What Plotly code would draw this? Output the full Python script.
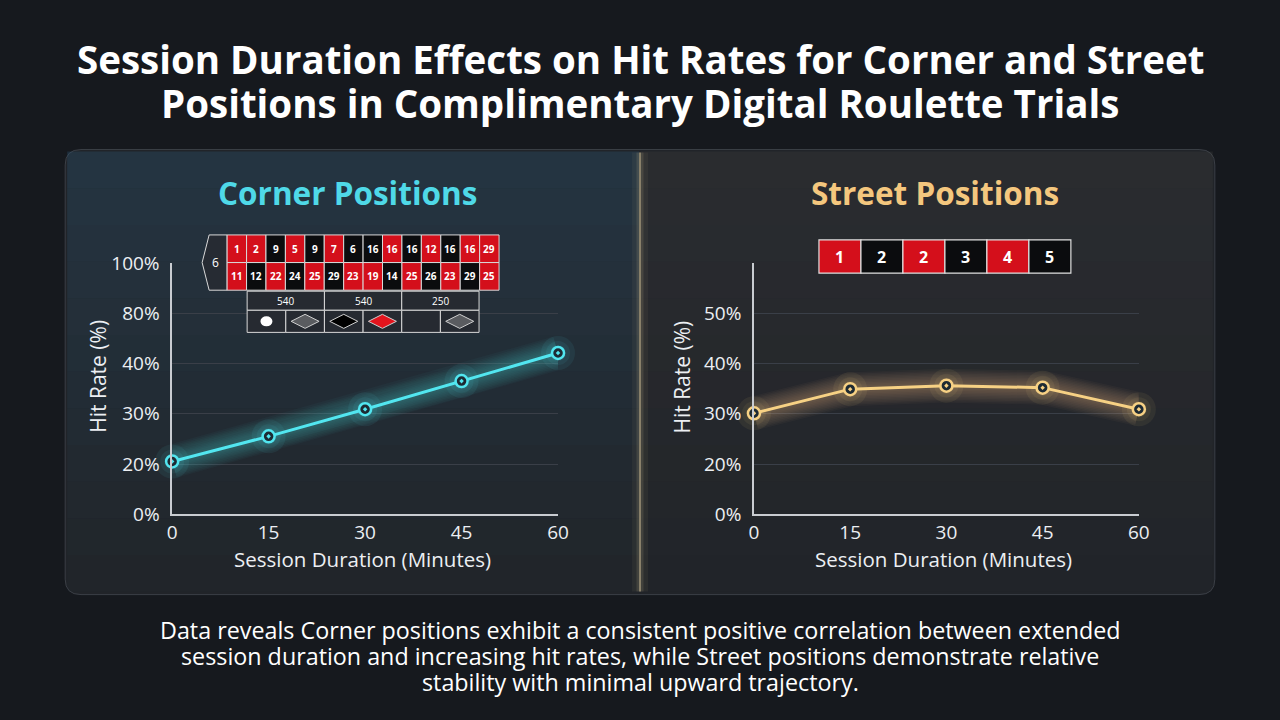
import plotly.graph_objects as go

# data
minutes = [0, 15, 30, 45, 60]
corner_rate = [20.5, 25.5, 30.9, 36.5, 42.1]
street_rate = [30.1, 34.9, 35.6, 35.2, 30.9]

# the y axes are labelled unevenly in the original, kept as-is
corner_tickvals = [10, 20, 30, 40, 50, 60]
corner_ticktext = ["0%", "20%", "30%", "40%", "80%", "100%"]
street_tickvals = [10, 20, 30, 40, 50]
street_ticktext = ["0%", "20%", "30%", "40%", "50%"]

# decorative roulette layouts
table_top = ["1", "2", "9", "5", "9", "7", "6", "16", "16", "16", "12", "16", "16", "29"]
table_top_col = ["R", "R", "B", "R", "B", "R", "B", "B", "R", "B", "R", "B", "R", "R"]
table_bot = ["11", "12", "22", "24", "25", "29", "23", "19", "14", "25", "26", "23", "29", "25"]
table_bot_col = ["R", "B", "R", "B", "R", "B", "R", "R", "B", "R", "B", "R", "B", "R"]
dozens = ["540", "540", "250"]
suits = ["dot", "gray", "black", "red", "", "gray"]
street_cells = ["1", "2", "2", "3", "4", "5"]
street_col = ["R", "B", "R", "B", "R", "B"]

W, H = 1280, 720
CYAN = "#52e6f0"
GOLD = "#f7d184"
RED = "#d40f1b"
BLK = "#0b0c0e"
FONT = "Open Sans"
TXT = "#eceff3"
BG = "#16191e"

# the capture ends up slightly shrunk/offset, so layout pixels are pre-adjusted
SX, OX = 0.9878, 4.8
SY, OY = 0.9594, 14.1


def px(x):
    return (x - OX) / SX / W


def py(y):
    return 1 - (y - OY) / SY / H


shapes = []
annotations = []


def rect(x0, y0, x1, y1, fill, line="#d9d9d9", lw=1, layer="above"):
    shapes.append(dict(type="rect", xref="paper", yref="paper",
                       x0=px(x0), x1=px(x1), y0=py(y1), y1=py(y0),
                       fillcolor=fill, line=dict(color=line, width=lw), layer=layer))


def label(x, y, text, size, color="white", bold=False, angle=0):
    annotations.append(dict(x=px(x), y=py(y), xref="paper", yref="paper",
                            text=f"<b>{text}</b>" if bold else text, showarrow=False,
                            xanchor="center", yanchor="middle", textangle=angle,
                            font=dict(family=FONT, size=size, color=color)))


def rounded(x0, y0, x1, y1, r):
    X0, X1 = px(x0), px(x1)
    Y0, Y1 = py(y1), py(y0)
    rx, ry = r / W, r / H
    return (f"M{X0+rx},{Y0} L{X1-rx},{Y0} Q{X1},{Y0} {X1},{Y0+ry} L{X1},{Y1-ry} "
            f"Q{X1},{Y1} {X1-rx},{Y1} L{X0+rx},{Y1} Q{X0},{Y1} {X0},{Y1-ry} "
            f"L{X0},{Y0+ry} Q{X0},{Y0} {X0+rx},{Y0} Z")


# panel background
shapes.append(dict(type="path", xref="paper", yref="paper", path=rounded(65, 150, 1215, 593, 16),
                   fillcolor="#212429", line=dict(color="#3b3f46", width=1), layer="below"))
# soft vertical gradients (bluish left, warm gray right), brighter toward the top
for k in range(12):
    y0 = 152 + k * 36.5
    a = 0.32 * (1 - k / 12)
    rect(67, y0, 639, y0 + 36.5, f"rgba(45,88,118,{a:.3f})", lw=0, layer="below")
    rect(641, y0, 1213, y0 + 36.5, f"rgba(75,74,72,{a * 0.7:.3f})", lw=0, layer="below")
for w, op in [(16, 0.05), (7, 0.12), (1.6, 0.55)]:
    shapes.append(dict(type="line", xref="paper", yref="paper", x0=px(640), x1=px(640),
                       y0=py(590), y1=py(153), line=dict(color=f"rgba(230,210,165,{op})", width=w),
                       layer="below"))

# roulette table (left panel)
ty0, tmid, ty1 = 235, 262.5, 290
cx0, cx1 = 227, 499
cw = (cx1 - cx0) / len(table_top)
shapes.append(dict(type="path", xref="paper", yref="paper",
                   path=f"M{px(cx0)},{py(ty0)} L{px(209)},{py(ty0)} L{px(202)},{py(tmid)} "
                        f"L{px(209)},{py(ty1)} L{px(cx0)},{py(ty1)} Z",
                   fillcolor="#262b33", line=dict(color="#d9d9d9", width=1), layer="above"))
label(215, tmid, "6", 12)
for i, (t, c) in enumerate(zip(table_top, table_top_col)):
    rect(cx0 + i * cw, ty0, cx0 + (i + 1) * cw, tmid, RED if c == "R" else BLK)
    label(cx0 + (i + 0.5) * cw, (ty0 + tmid) / 2, t, 10, bold=True)
for i, (t, c) in enumerate(zip(table_bot, table_bot_col)):
    rect(cx0 + i * cw, tmid, cx0 + (i + 1) * cw, ty1, RED if c == "R" else BLK)
    label(cx0 + (i + 0.5) * cw, (tmid + ty1) / 2, t, 10, bold=True)

dx0, dx1 = 247, 479
dw = (dx1 - dx0) / len(dozens)
for i, t in enumerate(dozens):
    rect(dx0 + i * dw, 291, dx0 + (i + 1) * dw, 310, "#262a31")
    label(dx0 + (i + 0.5) * dw, 300.5, t, 10)
sw = (dx1 - dx0) / len(suits)
for i, s in enumerate(suits):
    x0 = dx0 + i * sw
    rect(x0, 310, x0 + sw, 332, "#262a31")
    xc, yc = x0 + sw / 2, 321
    if s == "dot":
        shapes.append(dict(type="circle", xref="paper", yref="paper", x0=px(xc - 6), x1=px(xc + 6),
                           y0=py(yc + 5), y1=py(yc - 5), fillcolor="white", line=dict(width=0),
                           layer="above"))
    elif s:
        fill = {"gray": "#5a5c60", "black": "#000000", "red": "#e3141d"}[s]
        shapes.append(dict(type="path", xref="paper", yref="paper",
                           path=f"M{px(xc-14)},{py(yc)} L{px(xc)},{py(yc-7)} L{px(xc+14)},{py(yc)} "
                                f"L{px(xc)},{py(yc+7)} Z",
                           fillcolor=fill, line=dict(color="#d0d0d0", width=1), layer="above"))

# street strip (right panel)
sx0, sx1 = 819, 1071
scw = (sx1 - sx0) / len(street_cells)
for i, (t, c) in enumerate(zip(street_cells, street_col)):
    rect(sx0 + i * scw, 240, sx0 + (i + 1) * scw, 273, RED if c == "R" else BLK, line="#e0e0e0", lw=1.2)
    label(sx0 + (i + 0.5) * scw, 257, t, 16, bold=True)

# texts
label(640, 60, "Session Duration Effects on Hit Rates for Corner and Street", 38.5, bold=True)
label(640, 104, "Positions in Complimentary Digital Roulette Trials", 38.5, bold=True)
label(347, 193, "Corner Positions", 31.5, color="#4fd9e8", bold=True)
label(935, 193, "Street Positions", 31.5, color="#f4c77e", bold=True)
label(362, 558, "Session Duration (Minutes)", 20.5, color=TXT)
label(944, 558, "Session Duration (Minutes)", 20.5, color=TXT)
label(97, 376, "Hit Rate (%)", 21, color=TXT, angle=-90)
label(682, 376, "Hit Rate (%)", 21, color=TXT, angle=-90)
label(640, 628, "Data reveals Corner positions exhibit a consistent positive correlation between extended", 23.3)
label(640, 654, "session duration and increasing hit rates, while Street positions demonstrate relative", 23.3)
label(640, 680, "stability with minimal upward trajectory.", 23.3)

fig = go.Figure()


def add_series(x, y, color, glow_rgb, xa, ya):
    # many faint wide strokes stacked for a soft halo
    for w in range(34, 4, -3):
        fig.add_trace(go.Scatter(x=x, y=y, mode="lines", xaxis=xa, yaxis=ya, hoverinfo="skip",
                                 line=dict(color=f"rgba({glow_rgb},0.035)", width=w),
                                 cliponaxis=False, showlegend=False))
    for s in (34, 24, 16):
        fig.add_trace(go.Scatter(x=x, y=y, mode="markers", xaxis=xa, yaxis=ya, hoverinfo="skip",
                                 marker=dict(size=s, color=f"rgba({glow_rgb},0.07)", line=dict(width=0)),
                                 cliponaxis=False, showlegend=False))
    fig.add_trace(go.Scatter(x=x, y=y, mode="lines+markers", xaxis=xa, yaxis=ya,
                             line=dict(color=color, width=3),
                             marker=dict(symbol="circle-dot", size=12, color="#1d2a33",
                                         line=dict(color=color, width=2.5)),
                             cliponaxis=False, showlegend=False))


add_series(minutes, corner_rate, CYAN, "82,230,240", "x", "y")
add_series(minutes, street_rate, GOLD, "247,209,132", "x2", "y2")

axis_common = dict(showline=True, linecolor="#c9ccd1", linewidth=1.5, ticks="", zeroline=False,
                   tickfont=dict(family=FONT, size=19, color=TXT))
fig.update_layout(
    width=W, height=H,
    margin=dict(l=0, r=0, t=0, b=0),
    paper_bgcolor=BG,
    plot_bgcolor="rgba(0,0,0,0)",
    showlegend=False,
    xaxis=dict(domain=[px(172), px(558)], range=[0, 60], tickvals=minutes, showgrid=False,
               anchor="y", ticklabelstandoff=0, **axis_common),
    yaxis=dict(domain=[py(513), py(263)], range=[10, 60], tickvals=corner_tickvals,
               ticktext=corner_ticktext, showgrid=True, gridcolor="#3a3f48", gridwidth=1,
               anchor="x", ticklabelstandoff=7, **axis_common),
    xaxis2=dict(domain=[px(754), px(1139)], range=[0, 60], tickvals=minutes, showgrid=False,
                anchor="y2", ticklabelstandoff=0, **axis_common),
    yaxis2=dict(domain=[py(513), py(263)], range=[10, 60], tickvals=street_tickvals,
                ticktext=street_ticktext, showgrid=True, gridcolor="#3a3f48", gridwidth=1,
                anchor="x2", ticklabelstandoff=7, **axis_common),
    shapes=shapes,
    annotations=annotations,
)

pin = ("document.body.style.margin='0';document.body.style.overflow='hidden';"
       f"document.body.style.background='{BG}';"
       "var g=document.getElementById('{plot_id}');g.style.position='fixed';"
       "g.style.left='0px';g.style.top='0px';")
fig.write_html("out.html", config={"displayModeBar": False}, post_script=pin)
